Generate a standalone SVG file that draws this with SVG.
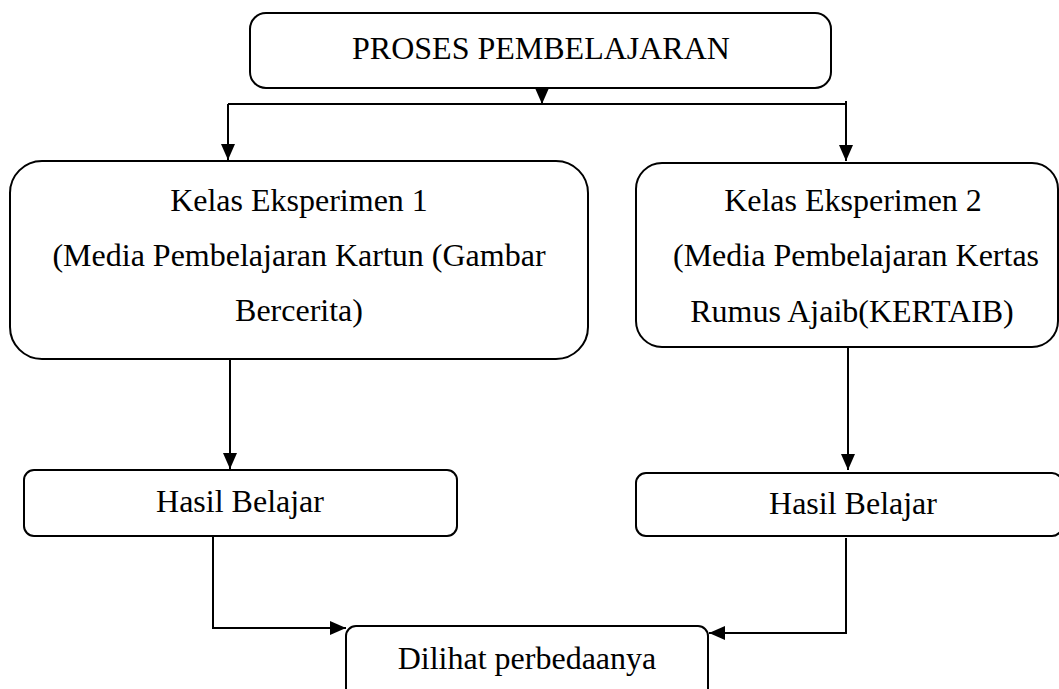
<svg xmlns="http://www.w3.org/2000/svg" width="1059" height="689" viewBox="0 0 1059 689">
<style>
.box{fill:#fff;stroke:#000;stroke-width:2}
.lbl{font-family:"Liberation Serif","Times New Roman",serif;font-size:32px;fill:#000;text-anchor:middle}
.con{fill:none;stroke:#000;stroke-width:2}
</style>
<defs>
<marker id="ah" markerUnits="userSpaceOnUse" markerWidth="16" markerHeight="14" refX="16" refY="7" orient="auto">
<path d="M0,0 L16,7 L0,14 z" fill="#000"/>
</marker>
</defs>
<rect width="1059" height="689" fill="#fff"/>
<g id="connectors">
<path class="con" d="M542,88 V104" marker-end="url(#ah)"/>
<path class="con" d="M228,104 H846"/>
<path class="con" d="M228,104 V160" marker-end="url(#ah)"/>
<path class="con" d="M846,101 V161" marker-end="url(#ah)"/>
<path class="con" d="M230,359 V469" marker-end="url(#ah)"/>
<path class="con" d="M848,347 V470" marker-end="url(#ah)"/>
<path class="con" d="M213,536 V628 H346" marker-end="url(#ah)"/>
<path class="con" d="M846,538 V633 H709" marker-end="url(#ah)"/>
</g>
<g id="proses">
<rect class="box" x="250" y="13" width="581" height="75" rx="16"/>
<text class="lbl" x="541" y="59">PROSES PEMBELAJARAN</text>
</g>
<g id="kelas1">
<rect class="box" x="10" y="161" width="578" height="198" rx="32"/>
<text class="lbl" x="299" y="211">Kelas Eksperimen 1</text>
<text class="lbl" x="299" y="266">(Media Pembelajaran Kartun (Gambar</text>
<text class="lbl" x="299" y="321">Bercerita)</text>
</g>
<g id="kelas2">
<rect class="box" x="636" y="163" width="422" height="184" rx="26"/>
<text class="lbl" x="853" y="211">Kelas Eksperimen 2</text>
<text class="lbl" x="856" y="266">(Media Pembelajaran Kertas</text>
<text class="lbl" x="852" y="322">Rumus Ajaib(KERTAIB)</text>
</g>
<g id="hasil1">
<rect class="box" x="24" y="470" width="433" height="66" rx="10"/>
<text class="lbl" x="240" y="512">Hasil Belajar</text>
</g>
<g id="hasil2">
<rect class="box" x="636" y="473" width="426" height="63" rx="10"/>
<text class="lbl" x="853" y="514">Hasil Belajar</text>
</g>
<g id="dilihat">
<rect class="box" x="346" y="626" width="362" height="80" rx="10"/>
<text class="lbl" x="527" y="669">Dilihat perbedaanya</text>
</g>
</svg>
